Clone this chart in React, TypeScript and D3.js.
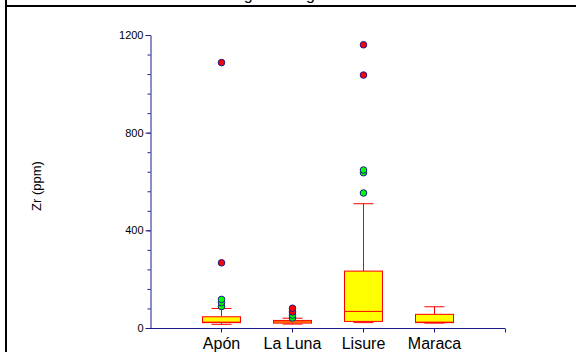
import React, { useEffect, useRef } from 'react';
import * as d3 from 'd3';

// Zr (ppm) box plots per formation
const categories = ['Apón', 'La Luna', 'Lisure', 'Maraca'];
const lowerWhisker = [15, 16, 22, 20];
const q1 = [22, 20, 27, 22];
const medians = [24, 25, 68, 24];
const q3 = [46, 31, 233, 56];
const upperWhisker = [80, 40, 509, 87];
const outsidePoints = [[88, 104, 117], [41, 53], [553, 636, 647], []];
const farOutPoints = [[267, 1087], [66, 81], [1036, 1160], []];

const majorTicks = [0, 400, 800, 1200];
const minorTicks = d3.range(0, 1201, 80);

const W = 576;
const H = 352;
const FONT = 'Arial, "Liberation Sans", sans-serif';
const AXIS = '#1a1a8c';

export default function App() {
  const ref = useRef<SVGSVGElement>(null);

  useEffect(() => {
    const svg = d3.select(ref.current);
    svg.selectAll('*').remove();

    const y = d3.scaleLinear().domain([0, 1200]).range([328, 35]);
    const x = d3.scaleLinear().domain([0, 5]).range([150, 505]);
    const boxW = 38;
    const capW = 20;

    // frame and clipped title
    svg.append('text')
        .attr('x', 201)
        .attr('y', -0.5)
        .attr('font-family', FONT)
        .attr('font-size', 16)
        .text('Zr range among units');
    svg.append('line')
        .attr('x1', 5).attr('x2', W).attr('y1', 6).attr('y2', 6)
        .attr('stroke', '#000').attr('stroke-width', 2);
    svg.append('line')
        .attr('x1', 6).attr('x2', 6).attr('y1', 0).attr('y2', H)
        .attr('stroke', '#000').attr('stroke-width', 2);

    // y axis
    const gMinor = svg.append('g').attr('transform', 'translate(150.5,0)')
        .call(d3.axisLeft(y).tickValues(minorTicks).tickSize(3).tickSizeOuter(0).tickFormat(() => ''));
    gMinor.select('.domain').remove();
    gMinor.selectAll('line').attr('stroke', AXIS);

    const gy = svg.append('g').attr('transform', 'translate(150.5,0)')
        .call(d3.axisLeft(y).tickValues(majorTicks).tickSize(5).tickSizeOuter(0).tickPadding(2)
            .tickFormat(d3.format('d')));
    gy.select('.domain').attr('stroke', AXIS);
    gy.selectAll('line').attr('stroke', AXIS);
    gy.selectAll('text').attr('font-family', FONT).attr('font-size', 11).attr('fill', '#000');

    // x axis
    const gx = svg.append('g').attr('transform', 'translate(0,328.5)')
        .call(d3.axisBottom(x).tickValues([1, 2, 3, 4, 5]).tickSize(4).tickSizeOuter(0).tickPadding(5)
            .tickFormat((d) => categories[(d as number) - 1] ?? ''));
    gx.select('.domain').attr('stroke', AXIS).attr('d', `M150,0H${x(5)}`);
    gx.selectAll('line').attr('stroke', AXIS);
    gx.selectAll('text').attr('font-family', FONT).attr('font-size', 16).attr('fill', '#000');

    // y label
    svg.append('text')
        .attr('transform', 'translate(41,186) rotate(-90)')
        .attr('text-anchor', 'middle')
        .attr('font-family', FONT)
        .attr('font-size', 13)
        .text('Zr (ppm)');

    // boxes
    categories.forEach((c, i) => {
      const cx = Math.round(x(i + 1)) + 0.5;
      const g = svg.append('g');

      g.append('line')
          .attr('x1', cx).attr('x2', cx)
          .attr('y1', y(q3[i])).attr('y2', y(upperWhisker[i]))
          .attr('stroke', '#ff0000');
      g.append('line')
          .attr('x1', cx).attr('x2', cx)
          .attr('y1', y(q1[i])).attr('y2', y(lowerWhisker[i]))
          .attr('stroke', '#ff0000');
      [upperWhisker[i], lowerWhisker[i]].forEach((v) => {
        g.append('line')
            .attr('x1', cx - capW / 2).attr('x2', cx + capW / 2)
            .attr('y1', y(v)).attr('y2', y(v))
            .attr('stroke', '#ff0000');
      });

      g.append('rect')
          .attr('x', cx - boxW / 2)
          .attr('y', y(q3[i]))
          .attr('width', boxW)
          .attr('height', y(q1[i]) - y(q3[i]))
          .attr('fill', '#ffff00')
          .attr('stroke', '#ff0000');
      g.append('line')
          .attr('x1', cx - boxW / 2).attr('x2', cx + boxW / 2)
          .attr('y1', y(medians[i])).attr('y2', y(medians[i]))
          .attr('stroke', '#ff0000');

      g.selectAll('circle.out')
          .data(outsidePoints[i])
          .enter()
          .append('circle')
          .attr('class', 'out')
          .attr('cx', cx)
          .attr('cy', (d) => y(d))
          .attr('r', 3.3)
          .attr('fill', '#00ff00')
          .attr('stroke', '#1a1a8c');
      g.selectAll('circle.far')
          .data(farOutPoints[i])
          .enter()
          .append('circle')
          .attr('class', 'far')
          .attr('cx', cx)
          .attr('cy', (d) => y(d))
          .attr('r', 3.3)
          .attr('fill', '#ff0000')
          .attr('stroke', '#1a1a8c');
    });
  }, []);

  return (
    <svg ref={ref} width={W} height={H}
      style={{ position: 'absolute', left: 0, top: 0, background: '#fff' }} />
  );
}
